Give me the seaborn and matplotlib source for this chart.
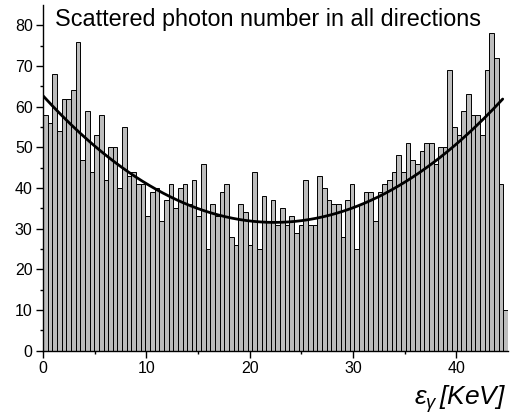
import numpy as np
import pandas as pd
import matplotlib
matplotlib.use("Agg")
import matplotlib.pyplot as plt
import seaborn as sns

# photon counts per energy bin, 0.45 keV wide bins from 0 to 45 keV
bin_width = 0.45
counts = [
    58, 56, 68, 54, 62, 62, 64, 76, 47, 59, 44, 53, 58, 42, 50, 50,
    40, 55, 43, 44, 41, 41, 33, 39, 40, 32, 37, 41, 35, 40, 41, 36, 42,
    33, 46, 25, 36, 33, 39, 41, 28, 26, 36, 34, 26, 44, 25, 38, 32,
    37, 31, 35, 31, 33, 29, 31, 42, 31, 31, 43, 40, 37, 36, 36, 28, 37,
    41, 25, 36, 39, 39, 32, 39, 41, 42, 44, 48, 44, 51, 47, 46, 49, 51,
    51, 46, 50, 50, 69, 55, 53, 59, 63, 58, 58, 53, 69, 78, 72, 41, 10,
]
# points (quadratic fit drawn over the spectrum)
fit_x = [0, 10, 22, 30, 40, 44.5]
fit_y = [62.5, 41.5, 31.3, 34.8, 51.5, 61.5]

title_text = "Scattered photon number in all directions"
x_ticks = [0, 10, 20, 30, 40]
y_ticks = [0, 10, 20, 30, 40, 50, 60, 70, 80]

sns.set_style("ticks")
plt.rcParams["font.family"] = ["Liberation Sans", "DejaVu Sans"]
plt.rcParams["text.color"] = "black"
plt.rcParams["mathtext.fontset"] = "custom"
plt.rcParams["mathtext.it"] = "Liberation Sans:italic"
plt.rcParams["mathtext.rm"] = "Liberation Sans"

edges = np.arange(len(counts) + 1) * bin_width
df = pd.DataFrame({"energy": edges[:-1] + bin_width / 2, "count": counts})

fig = plt.figure(figsize=(5.13, 4.17), dpi=100)
ax = fig.add_axes([0.084, 0.159, 0.906, 0.829])

# bins as a plain list: seaborn compares bins to "auto" when weights are used
sns.histplot(data=df, x="energy", weights="count", bins=edges.tolist(), ax=ax,
             color="#bdbdbd", edgecolor="black", linewidth=0.7, alpha=1)

coef = np.polyfit(fit_x, fit_y, 2)
fx = np.linspace(fit_x[0], fit_x[-1], 200)
sns.lineplot(x=fx, y=np.polyval(coef, fx), ax=ax, color="black", linewidth=2)

ax.set_xlim(0, 45)
ax.set_ylim(0, 85)
ax.set_xticks(x_ticks)
ax.set_yticks(y_ticks)
ax.set_xticks(np.arange(5, 45, 10), minor=True)
ax.set_yticks(np.arange(5, 85, 10), minor=True)
ax.tick_params(axis="both", which="major", direction="out", length=5, width=1,
               labelsize=11.5, colors="black", pad=2.5)
ax.tick_params(axis="both", which="minor", direction="out", length=2.5, width=1,
               colors="black")
ax.set_xlabel("")
ax.set_ylabel("")
for s in ["top", "right"]:
    ax.spines[s].set_visible(False)
for s in ["left", "bottom"]:
    ax.spines[s].set_linewidth(1)
    ax.spines[s].set_color("black")

fig.text(55 / 513, 1 - 26 / 417, title_text, ha="left", va="baseline",
         fontsize=16.8, color="black")
fig.text(506 / 513, 12 / 417, r"$\varepsilon_\gamma\,$[KeV]", ha="right",
         va="baseline", fontsize=19, style="italic", color="black")

fig.savefig("out.png", dpi=100)
plt.close(fig)
